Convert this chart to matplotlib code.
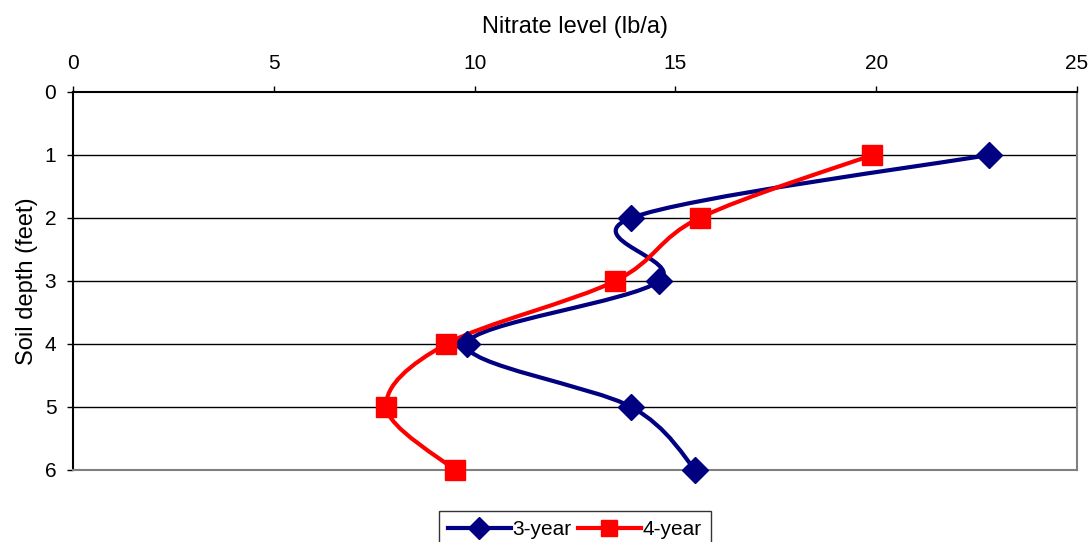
import numpy as np
import matplotlib.pyplot as plt
from matplotlib.path import Path
from matplotlib.patches import PathPatch
from matplotlib.lines import Line2D

plt.rcParams['font.family'] = ['Liberation Sans', 'DejaVu Sans']

# soil depth (feet) and nitrate level (lb/a) for each rotation
depth = [1, 2, 3, 4, 5, 6]
nitrate_3yr = [22.8, 13.9, 14.6, 9.8, 13.9, 15.5]
nitrate_4yr = [19.9, 15.6, 13.5, 9.3, 7.8, 9.5]

x_ticks = [0, 5, 10, 15, 20, 25]
y_ticks = [0, 1, 2, 3, 4, 5, 6]


def smooth_path(xs, ys):
    # bezier through the points, spreadsheet-style smoothing
    pts = np.column_stack([xs, ys]).astype(float)
    n = len(pts)
    verts = [pts[0]]
    codes = [Path.MOVETO]
    for i in range(n - 1):
        p0 = pts[i - 1] if i > 0 else pts[i]
        p1 = pts[i]
        p2 = pts[i + 1]
        p3 = pts[i + 2] if i + 2 < n else pts[i + 1]
        c1 = p1 + (p2 - p0) / 6.0
        c2 = p2 - (p3 - p1) / 6.0
        verts += [c1, c2, p2]
        codes += [Path.CURVE4] * 3
    return Path(verts, codes)


fig = plt.figure(figsize=(10.91, 5.42), dpi=100)
ax = fig.add_axes([0.0669, 0.1330, 0.9203, 0.6973])

for vals, col, mk, ms in [(nitrate_3yr, '#000080', 'D', 13),
                          (nitrate_4yr, '#ff0000', 's', 14)]:
    ax.add_patch(PathPatch(smooth_path(vals, depth), facecolor='none',
                           edgecolor=col, lw=3, capstyle='round',
                           joinstyle='round', zorder=3, clip_on=False))
    ax.plot(vals, depth, linestyle='none', marker=mk, markersize=ms,
            color=col, zorder=4, clip_on=False)

ax.set_xlim(0, 25)
ax.set_ylim(6, 0)
ax.set_xticks(x_ticks)
ax.set_yticks(y_ticks)
ax.xaxis.tick_top()
ax.xaxis.set_label_position('top')
ax.tick_params(axis='both', labelsize=15, length=4.5, width=1, color='black',
               direction='out')
ax.tick_params(axis='x', pad=9.5)
ax.tick_params(axis='y', pad=7.5)
ax.set_xlabel('Nitrate level (lb/a)', fontsize=17, labelpad=15)
ax.set_ylabel('Soil depth (feet)', fontsize=17, labelpad=5)

for y in y_ticks[1:-1]:
    ax.axhline(y, color='black', lw=1, zorder=1)

ax.spines['top'].set_color('black')
ax.spines['left'].set_color('black')
ax.spines['bottom'].set_color('#808080')
ax.spines['right'].set_color('#808080')
for s in ax.spines.values():
    s.set_linewidth(1.5)

handles = [Line2D([], [], color='#000080', lw=3, marker='D', markersize=11),
           Line2D([], [], color='#ff0000', lw=3, marker='s', markersize=11)]
leg = fig.legend(handles, ['3-year', '4-year'], loc='upper center',
                 bbox_to_anchor=(0.527, 0.058), ncol=2, fontsize=15,
                 frameon=True, fancybox=False, handlelength=3.0,
                 handletextpad=0.1, columnspacing=0.3, borderpad=0.45,
                 borderaxespad=0)
leg.get_frame().set_edgecolor('black')
leg.get_frame().set_linewidth(1)

fig.savefig('out.png', dpi=100)
